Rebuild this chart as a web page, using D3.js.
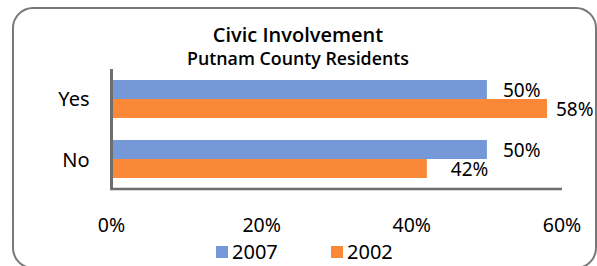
<!DOCTYPE html>
<html>
<head>
<meta charset="utf-8">
<script src="https://cdn.jsdelivr.net/npm/d3@7"></script>
<style>
  html, body { margin: 0; padding: 0; background: #fff; }
  svg { display: block; }
  text { font-family: "Noto Sans", sans-serif; fill: #000; }
  .ttl { font-family: "Open Sans", "Noto Sans", sans-serif; font-weight: 600; }
</style>
</head>
<body>
<svg id="chart" width="597" height="266"></svg>
<script>
// ---- data ----
const categories = ["Yes", "No"];
const seriesNames = ["2007", "2002"];
const values2007 = [0.50, 0.50];
const values2002 = [0.58, 0.42];
const tickValues = [0, 0.2, 0.4, 0.6];
const tickLabels = ["0%", "20%", "40%", "60%"];
const titleText = "Civic Involvement";
const subtitleText = "Putnam County Residents";

const seriesValues = [values2007, values2002];
const colors = { "2007": "#7599D8", "2002": "#FB8837" };

const svg = d3.select("#chart");

// chart frame
svg.append("rect")
  .attr("x", 13).attr("y", 8)
  .attr("width", 583).attr("height", 260)
  .attr("rx", 20).attr("ry", 20)
  .attr("fill", "#fff")
  .attr("stroke", "#787878")
  .attr("stroke-width", 2);

// scales
const x = d3.scaleLinear().domain([0, 0.6]).range([111.5, 562]);
const y0 = d3.scaleBand().domain(categories).range([69, 189])
  .paddingInner(0.3667).paddingOuter(0.1833);
const y1 = d3.scaleBand().domain(seriesNames).range([0, y0.bandwidth()]);

// titles
svg.append("text").attr("class", "ttl").attr("x", 298).attr("y", 42)
  .attr("text-anchor", "middle")
  .style("font-size", "20px")
  .text(titleText);
svg.append("text").attr("class", "ttl").attr("x", 298).attr("y", 65)
  .attr("text-anchor", "middle")
  .style("font-size", "17.8px")
  .text(subtitleText);

// bars
const rows = [];
categories.forEach((c, i) => {
  seriesNames.forEach((s, j) => rows.push({ cat: c, series: s, value: seriesValues[j][i] }));
});

svg.append("g").selectAll("rect").data(rows).join("rect")
  .attr("x", x(0) + 1)
  .attr("y", d => y0(d.cat) + y1(d.series))
  .attr("width", d => x(d.value) - x(0) - 1)
  .attr("height", y1.bandwidth())
  .attr("fill", d => colors[d.series]);

// data labels (nudges mimic the source placement)
const labelDx = { "Yes|2007": 16, "No|2007": 16, "Yes|2002": 9, "No|2002": 24 };
svg.append("g").selectAll("text").data(rows).join("text")
  .attr("x", d => x(d.value) + labelDx[d.cat + "|" + d.series])
  .attr("y", d => y0(d.cat) + y1(d.series) + y1.bandwidth() / 2 + 7.5)
  .style("font-size", "19px")
  .text(d => d3.format(".0%")(d.value));

// axis lines
svg.append("line")
  .attr("x1", x(0)).attr("x2", x(0))
  .attr("y1", 69).attr("y2", 190)
  .attr("stroke", "#6e6e6e").attr("stroke-width", 3);
svg.append("line")
  .attr("x1", x(0) - 1.5).attr("x2", x(0.6))
  .attr("y1", 189).attr("y2", 189)
  .attr("stroke", "#6e6e6e").attr("stroke-width", 2.5);

// category labels
svg.append("g").selectAll("text").data(categories).join("text")
  .attr("x", 89.5)
  .attr("y", d => y0(d) + y0.bandwidth() / 2 + 7.5)
  .attr("text-anchor", "end")
  .style("font-size", "20px")
  .text(d => d);

// x tick labels
svg.append("g").selectAll("text").data(tickValues).join("text")
  .attr("x", d => x(d))
  .attr("y", 232)
  .attr("text-anchor", "middle")
  .style("font-size", "19.5px")
  .text((d, i) => tickLabels[i]);

// legend
const legendX = [216, 331];
const lg = svg.append("g").selectAll("g").data(seriesNames).join("g")
  .attr("transform", (d, i) => `translate(${legendX[i]},246)`);
lg.append("rect").attr("width", 12).attr("height", 12)
  .attr("fill", d => colors[d]);
lg.append("text").attr("x", 16).attr("y", 13)
  .style("font-size", "20px")
  .text(d => d);
</script>
</body>
</html>
